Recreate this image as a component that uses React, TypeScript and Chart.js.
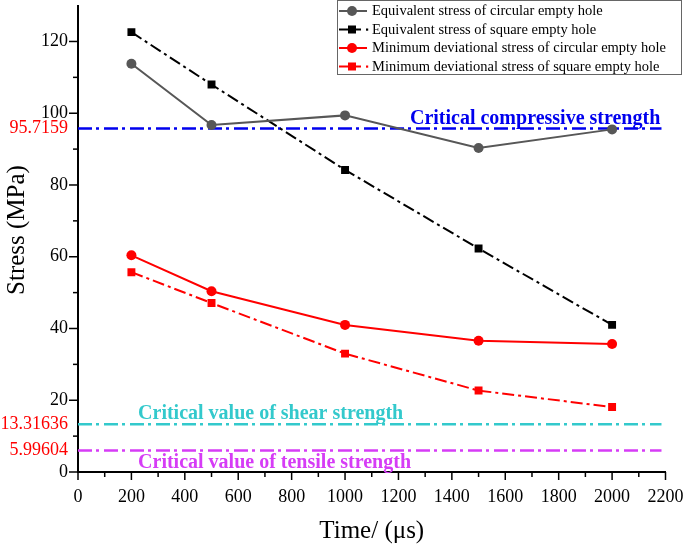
import React, { useEffect, useRef } from "react";
import { Chart, registerables } from "chart.js";

Chart.register(...registerables);

const times = [200, 500, 1000, 1500, 2000];
const eqCircular = [113.8, 96.7, 99.4, 90.3, 95.5];
const eqSquare = [122.6, 108.0, 84.2, 62.3, 41.0];
const minDevCircular = [60.4, 50.4, 41.0, 36.6, 35.7];
const minDevSquare = [55.7, 47.1, 33.0, 22.7, 18.1];

const seriesNames = [
  "Equivalent stress of circular empty hole",
  "Equivalent stress of square empty hole",
  "Minimum deviational stress of circular empty hole",
  "Minimum deviational stress of square empty hole",
];

const criticalValues = [95.7159, 13.31636, 5.99604];
const criticalTickLabels = ["95.7159", "13.31636", "5.99604"];
const criticalNames = [
  "Critical compressive strength",
  "Critical value of shear strength",
  "Critical value of tensile strength",
];
const criticalLineEnd = [0, 2185];
const criticalLabelX = [1243, 225, 225];

const yMajorTicks = [0, 20, 40, 60, 80, 100, 120];
const yMinorTicks = [10, 30, 50, 70, 90, 110];
const xMax = 2200;
const yTitle = "Stress (MPa)";
const xTitle = "Time/ (μs)";

const SERIF = '"Liberation Serif", "Times New Roman", serif';
const GRAY = "#575757";
const BLUE = "#0000ee";
const CYAN = "#33c9cc";
const MAGENTA = "#d63cf6";
const RED = "#ff0000";
const DASH = [12, 4, 3, 4];
const CDASH = [14, 4, 3, 5];

const toXY = (vals: number[]) => vals.map((v, i) => ({ x: times[i], y: v }));

const overlayPlugin = {
  id: "overlay",
  afterDraw(chart: any) {
    const ctx = chart.ctx as CanvasRenderingContext2D;
    const xs = chart.scales.x;
    const ys = chart.scales.y;
    const x0 = xs.left;
    const yb = ys.bottom;
    ctx.save();
    ctx.strokeStyle = "#000";
    ctx.lineWidth = 1.5;
    const drawY = (v: number, len: number) => {
      const p = ys.getPixelForValue(v);
      ctx.beginPath();
      ctx.moveTo(x0 - len, p);
      ctx.lineTo(x0, p);
      ctx.stroke();
    };
    yMajorTicks.forEach((v) => drawY(v, 9));
    yMinorTicks.forEach((v) => drawY(v, 5));
    for (let v = 0; v <= xMax; v += 100) {
      const p = xs.getPixelForValue(v);
      const len = v % 200 === 0 ? 8 : 5;
      ctx.beginPath();
      ctx.moveTo(p, yb);
      ctx.lineTo(p, yb + len);
      ctx.stroke();
    }
    // y axis title
    ctx.save();
    ctx.translate(17, 230);
    ctx.rotate(-Math.PI / 2);
    ctx.fillStyle = "#000";
    ctx.font = `25px ${SERIF}`;
    ctx.textAlign = "center";
    ctx.textBaseline = "middle";
    ctx.fillText(yTitle, 0, 0);
    ctx.restore();

    const colors = [BLUE, CYAN, MAGENTA];
    const offs = [-5, -5.5, 18];
    ctx.font = `bold 20px ${SERIF}`;
    ctx.textAlign = "left";
    ctx.textBaseline = "alphabetic";
    criticalNames.forEach((t, i) => {
      ctx.fillStyle = colors[i];
      ctx.fillText(
        t,
        xs.getPixelForValue(criticalLabelX[i]),
        ys.getPixelForValue(criticalValues[i]) + offs[i]
      );
    });
    const bx = 337.5,
      by = 0.5,
      bw = 344,
      bh = 74;
    ctx.fillStyle = "#fff";
    ctx.fillRect(bx, by, bw, bh);
    ctx.strokeStyle = "#666";
    ctx.lineWidth = 1;
    ctx.strokeRect(bx, by, bw, bh);
    const rows = [11, 29.5, 48, 66.5];
    const cols = [GRAY, "#000", RED, RED];
    const square = [false, true, false, true];
    rows.forEach((ry, i) => {
      ctx.strokeStyle = cols[i];
      ctx.fillStyle = cols[i];
      ctx.lineWidth = 2;
      ctx.beginPath();
      ctx.moveTo(339, ry);
      ctx.lineTo(square[i] ? 361 : 367, ry);
      ctx.stroke();
      if (square[i]) {
        ctx.fillRect(348, ry - 4, 8, 8);
        ctx.fillRect(366, ry - 1, 2.2, 2.2);
      } else {
        ctx.beginPath();
        ctx.arc(352, ry, 5, 0, Math.PI * 2);
        ctx.fill();
      }
      ctx.fillStyle = "#000";
      ctx.font = `14.5px ${SERIF}`;
      ctx.textBaseline = "middle";
      ctx.fillText(seriesNames[i], 372, ry + 0.5);
    });
    ctx.restore();
  },
};

export default function App() {
  const ref = useRef<HTMLCanvasElement | null>(null);
  useEffect(() => {
    document.body.style.margin = "0";
    const canvas = ref.current!;
    const lineDs = (
      label: string,
      vals: number[],
      color: string,
      style: string,
      dash: number[]
    ) => ({
      label,
      data: toXY(vals),
      borderColor: color,
      backgroundColor: color,
      borderWidth: 2,
      borderDash: dash,
      pointStyle: style,
      pointRadius: style === "rect" ? 5.6 : 5,
      pointBorderWidth: 0,
      pointBackgroundColor: color,
      tension: 0,
    });
    const critColors = [BLUE, CYAN, MAGENTA];
    const chart = new Chart(canvas, {
      type: "line",
      data: {
        datasets: [
          lineDs(seriesNames[0], eqCircular, GRAY, "circle", []),
          lineDs(seriesNames[1], eqSquare, "#000", "rect", DASH),
          lineDs(seriesNames[2], minDevCircular, RED, "circle", []),
          lineDs(seriesNames[3], minDevSquare, RED, "rect", DASH),
          ...criticalValues.map((v, i) => ({
            label: criticalNames[i],
            data: criticalLineEnd.map((x) => ({ x, y: v })),
            borderColor: critColors[i],
            borderWidth: 2.5,
            borderDash: CDASH,
            pointRadius: 0,
          })),
        ] as any,
      },
      options: {
        animation: false,
        responsive: false,
        devicePixelRatio: 1,
        layout: { padding: { top: 3, right: 19.5, left: 0, bottom: 0 } },
        plugins: {
          legend: { display: false },
          tooltip: { enabled: false },
        },
        scales: {
          x: {
            type: "linear",
            min: 0,
            max: xMax,
            grid: { display: true, drawOnChartArea: false, drawTicks: false },
            border: { display: true, color: "#000", width: 2 },
            ticks: {
              stepSize: 200,
              color: "#000",
              padding: 14,
              font: { family: SERIF, size: 18 },
              maxRotation: 0,
              autoSkip: false,
              callback: (v: any) => String(v),
            },
            title: {
              display: true,
              text: xTitle,
              color: "#000",
              font: { family: SERIF, size: 25 },
              padding: { top: 0, bottom: 0 },
            },
            afterFit: (s: any) => {
              s.height = 74;
              s.paddingLeft = 0;
              s.paddingRight = 0;
            },
          },
          y: {
            type: "linear",
            min: 0,
            max: 130,
            grid: { display: true, drawOnChartArea: false, drawTicks: false },
            border: { display: true, color: "#000", width: 2 },
            afterBuildTicks: (s: any) => {
              const vals = [...yMajorTicks, ...criticalValues].sort((a, b) => a - b);
              s.ticks = vals.map((v) => ({ value: v }));
            },
            ticks: {
              autoSkip: false,
              padding: 10,
              font: { family: SERIF, size: 18 },
              color: (c: any) =>
                criticalValues.includes(c.tick?.value) ? RED : "#000",
              callback: (v: any) => {
                const i = criticalValues.indexOf(v);
                if (i >= 0) return criticalTickLabels[i];
                return String(v);
              },
            },
            title: { display: false },
            afterFit: (s: any) => {
              s.width = 78;
              s.paddingTop = 0;
              s.paddingBottom = 0;
            },
          },
        },
      },
      plugins: [overlayPlugin],
    });
    return () => chart.destroy();
  }, []);
  return (
    <div style={{ width: 685, height: 546 }}>
      <canvas ref={ref} width={685} height={546} style={{ display: "block" }} />
    </div>
  );
}
